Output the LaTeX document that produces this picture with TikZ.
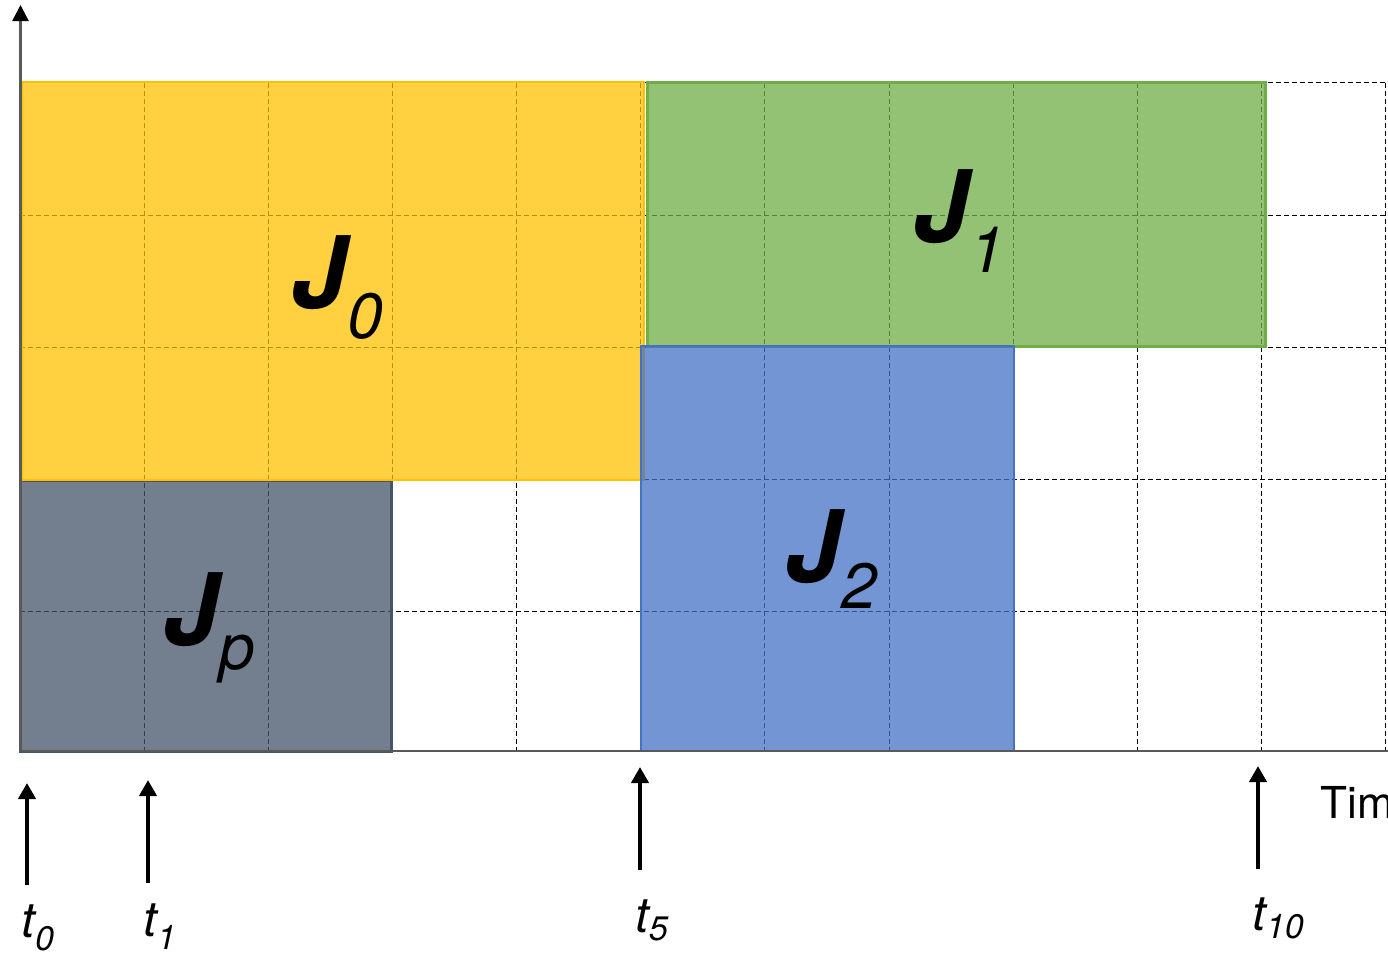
\documentclass[tikz,border=0pt]{standalone}
\usepackage{fontspec}
\setmainfont{TeX Gyre Heros}
\usepackage{tikz}
\usetikzlibrary{arrows.meta}
\definecolor{jpcolor}{HTML}{44546A}
\definecolor{jzerocolor}{HTML}{FFC000}
\definecolor{jonecolor}{HTML}{70AD47}
\definecolor{jtwocolor}{HTML}{4472C4}
\definecolor{axiscolor}{HTML}{595959}
\newcommand{\joblbl}[2]{{\fontsize{50}{60}\selectfont\bfseries J}\raisebox{-#2}{\fontsize{32}{38}\selectfont #1}}
\newcommand{\ticklbl}[2]{t\raisebox{-#2}{\fontsize{17}{20}\selectfont #1}}
\tikzset{
  job/.style={line width=1.2pt, fill opacity=0.75},
  jlbl/.style={font=\itshape, inner sep=0pt, anchor=base west},
  gridline/.style={dash pattern=on 2.5pt off 1.5pt, line width=0.5pt},
  tmark/.style={-{Triangle[length=8pt,width=8.5pt]}, line width=2.3pt},
  tlbl/.style={font=\fontsize{24.5}{29}\selectfont\itshape, inner sep=0pt, anchor=base west},
  axis/.style={draw=axiscolor, line width=1.3pt},
}

\begin{document}
\begin{tikzpicture}[x=0.5pt, y=-0.5pt]
\useasboundingbox (0,0) rectangle (1388,955);
\foreach \k in {1,...,11}
  \draw[gridline] ({20+124.15*\k},82.5) -- ({20+124.15*\k},751);
\foreach \r in {82.5,215,347,479.5,611.5}
  \draw[gridline] (20,\r) -- (1386,\r);
\draw[job, draw=jpcolor, fill=jpcolor, line width=1.5pt] (20,480) rectangle (391,751);
\draw[job, draw=jzerocolor, fill=jzerocolor] (22,82) rectangle (644,480);
\draw[job, draw=jonecolor, fill=jonecolor, line width=1.5pt] (647,82) rectangle (1265,346);
\draw[job, draw=jtwocolor, fill=jtwocolor] (641,346) rectangle (1014,751);
\node[jlbl] (jzero) at (291,308) {\joblbl{0}{15pt}};
\node[jlbl] (jone) at (913,242) {\joblbl{1}{15pt}};
\node[jlbl] (jtwo) at (785,582) {\joblbl{2}{13pt}};
\node[jlbl] (jp) at (163,645) {\joblbl{p}{12pt}};
\coordinate (origin) at (20.5,751);
\coordinate (ytop) at (20.5,5);
\coordinate (xend) at (1388,751);
\draw[axis] (origin) -- (xend);
\draw[axis, -{Triangle[length=8pt,width=8pt,color=black]}] (origin) -- (ytop);
\foreach \x/\lo/\hi/\n in {27/885/783/0, 148/883/780/1, 640/870/767/5, 1258/869/766/10} {
  \coordinate (tail\n) at (\x,\lo);
  \coordinate (head\n) at (\x,\hi);
  \draw[tmark] (tail\n) -- (head\n);
}
\node[tlbl] (tzero) at (21,937) {\ticklbl{0}{6.5pt}};
\node[tlbl] (tone) at (143,936) {\ticklbl{1}{6.5pt}};
\node[tlbl] (tfive) at (635,932) {\ticklbl{5}{4pt}};
\node[tlbl] (tten) at (1252,930) {\ticklbl{10}{4pt}};
\node[font=\fontsize{22}{26}\selectfont, inner sep=0pt, anchor=base west] (timelbl) at (1320,818) {Time};
\end{tikzpicture}
\end{document}
